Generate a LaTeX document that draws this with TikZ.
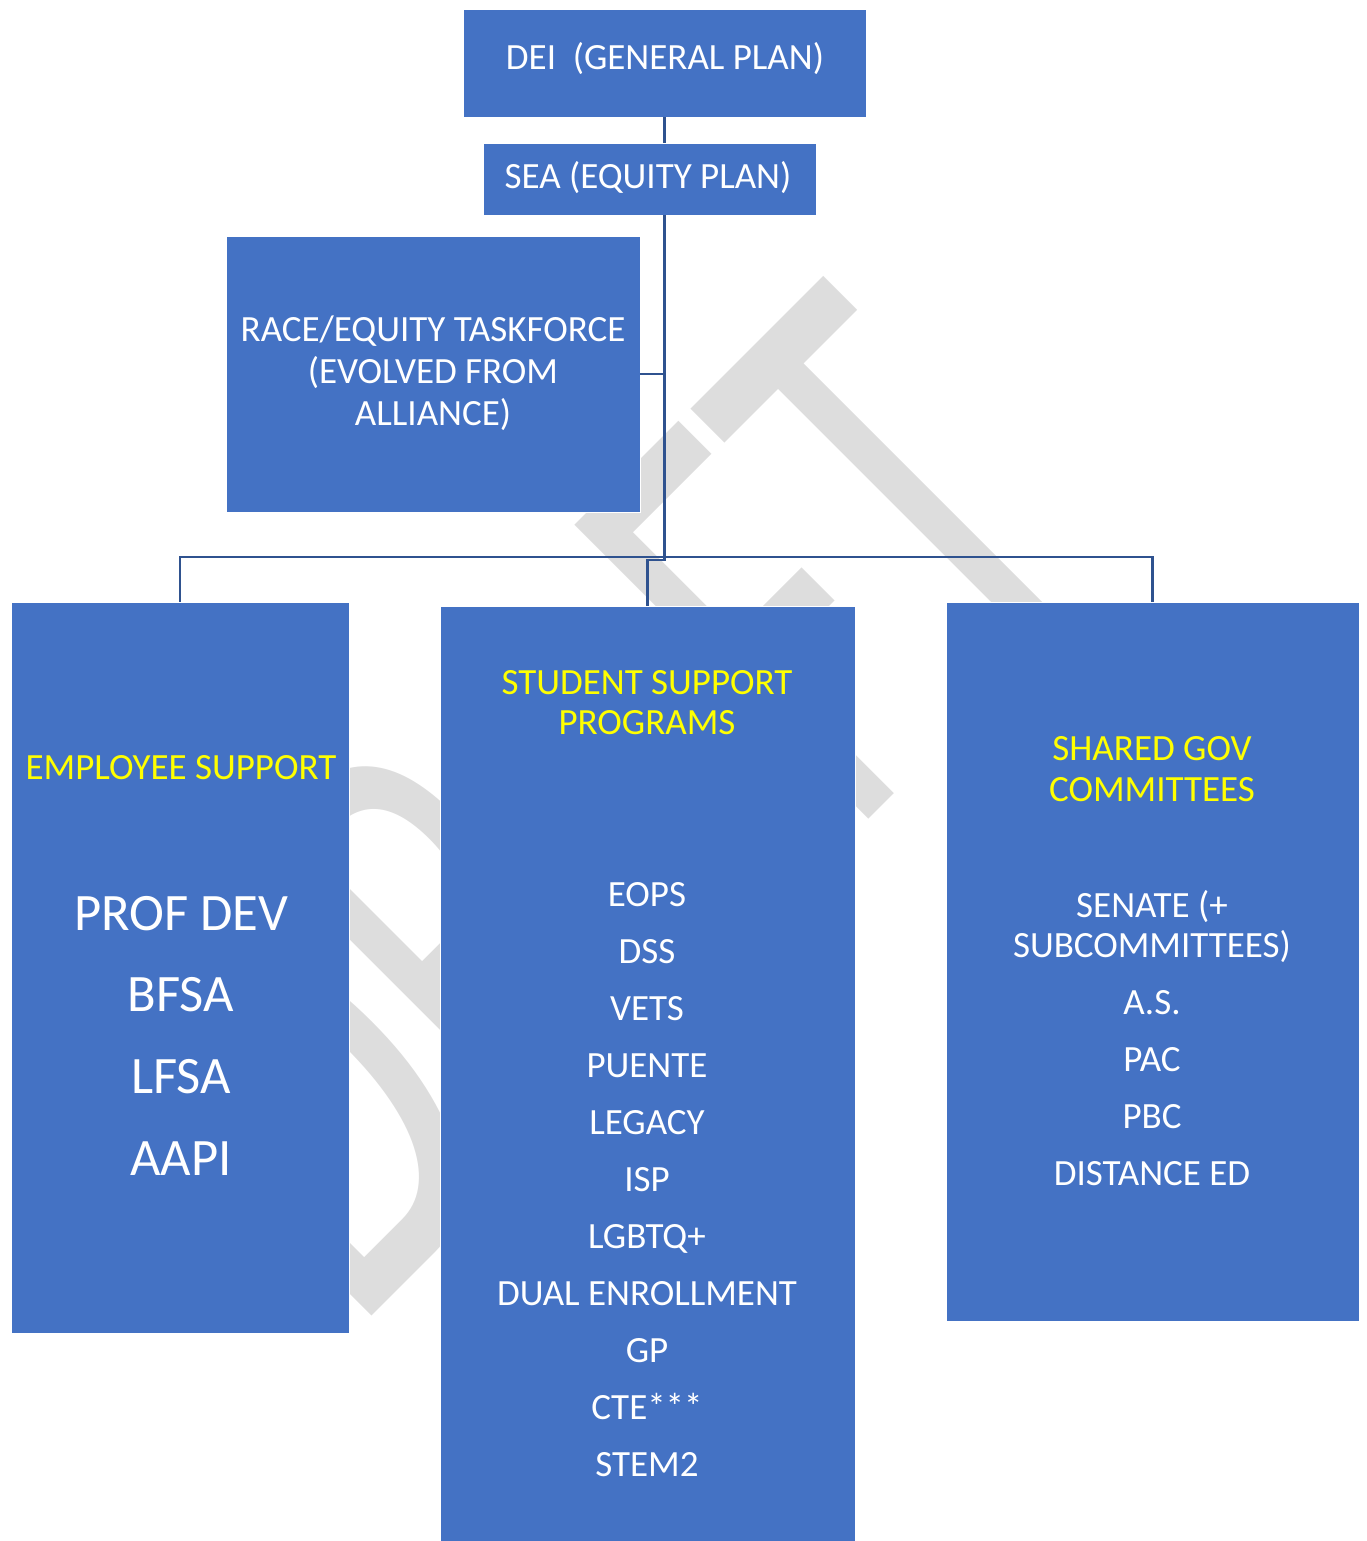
\documentclass[tikz,border=0pt]{standalone}
\usepackage{fontspec}
\setmainfont{Carlito}

\definecolor{boxblue}{RGB}{68,114,196}
\definecolor{linkblue}{RGB}{47,82,143}
\definecolor{draftgray}{RGB}{221,221,221}
\definecolor{headyellow}{RGB}{255,255,0}

\begin{document}
\begin{tikzpicture}[x=1pt,y=-1pt,
    box/.style={rectangle, fill=boxblue, draw=white, line width=0.8pt, inner sep=0pt},
    link/.style={draw=linkblue, line width=2.5pt},
    boxtext/.style={text=white, align=center, inner sep=0pt, font=\fontsize{37}{42}\selectfont},
    headtext/.style={boxtext, text=headyellow},
    draftmark/.style={text=draftgray, inner sep=0pt, font=\fontsize{405}{405}\selectfont}]

	\useasboundingbox (0,0) rectangle (1366,1541);

	% watermark behind everything
	\node[draftmark, rotate=45, anchor=base west] (draft) at (352,1336) {\scalebox{1}[1.6]{DRAFT}};

	% boxes
	\node[box, minimum width=403pt, minimum height=108pt] (dei) at (664.5,63) {};
	\node[box, minimum width=333pt, minimum height=72pt] (sea) at (649.5,179) {};
	\node[box, minimum width=414pt, minimum height=276pt] (race) at (433,374) {};
	\node[box, minimum width=338pt, minimum height=731pt] (emp) at (180,967.5) {};
	\node[box, minimum width=415pt, minimum height=935pt] (stu) at (647.5,1073.5) {};
	\node[box, minimum width=413pt, minimum height=719pt] (gov) at (1152.5,961.5) {};

	% connectors
	\draw[link] (dei.south) -- (dei.south |- sea.north);
	\coordinate (hub) at (dei.south |- 0,560);
	\draw[link] (dei.south |- sea.south) -- (hub) -| (stu.north);
	\draw[link] (race.east) -- (race.east -| hub);
	\draw[link] (emp.north) -- (emp.north |- 0,557) -- (gov.north |- 0,557) -- (gov.north);

	% texts
	\node[boxtext] (deitext) at (665,59) {DEI\ \ (GENERAL PLAN)};
	\node[boxtext] (seatext) at (648,178) {SEA (EQUITY PLAN)};
	\node[boxtext] (racetext) at (433,373) {RACE/EQUITY TASKFORCE\\(EVOLVED FROM\\ALLIANCE)};

	\node[headtext] (emphead) at (181,768) {EMPLOYEE SUPPORT};
	\node[boxtext, font=\fontsize{52.6}{81.7}\selectfont] (empitems) at (181,1035.5)
	    {PROF DEV\\BFSA\\LFSA\\AAPI};

	\node[headtext, font=\fontsize{37}{40}\selectfont] (stuhead) at (647,703) {STUDENT SUPPORT\\PROGRAMS};
	\node[boxtext, font=\fontsize{37}{57}\selectfont] (stuitems) at (647,1180)
	    {EOPS\\DSS\\VETS\\PUENTE\\LEGACY\\ISP\\LGBTQ+\\DUAL ENROLLMENT\\GP\\CTE***\\STEM2};

	\node[headtext, font=\fontsize{37}{41}\selectfont] (govhead) at (1152,769.5) {SHARED GOV\\COMMITTEES};
	\node[boxtext, font=\fontsize{37}{40}\selectfont] (govitems) at (1152,1038.5)
	    {SENATE (+\\SUBCOMMITTEES)\\[17pt]A.S.\\[17pt]PAC\\[17pt]PBC\\[17pt]DISTANCE ED};

\end{tikzpicture}
\end{document}
